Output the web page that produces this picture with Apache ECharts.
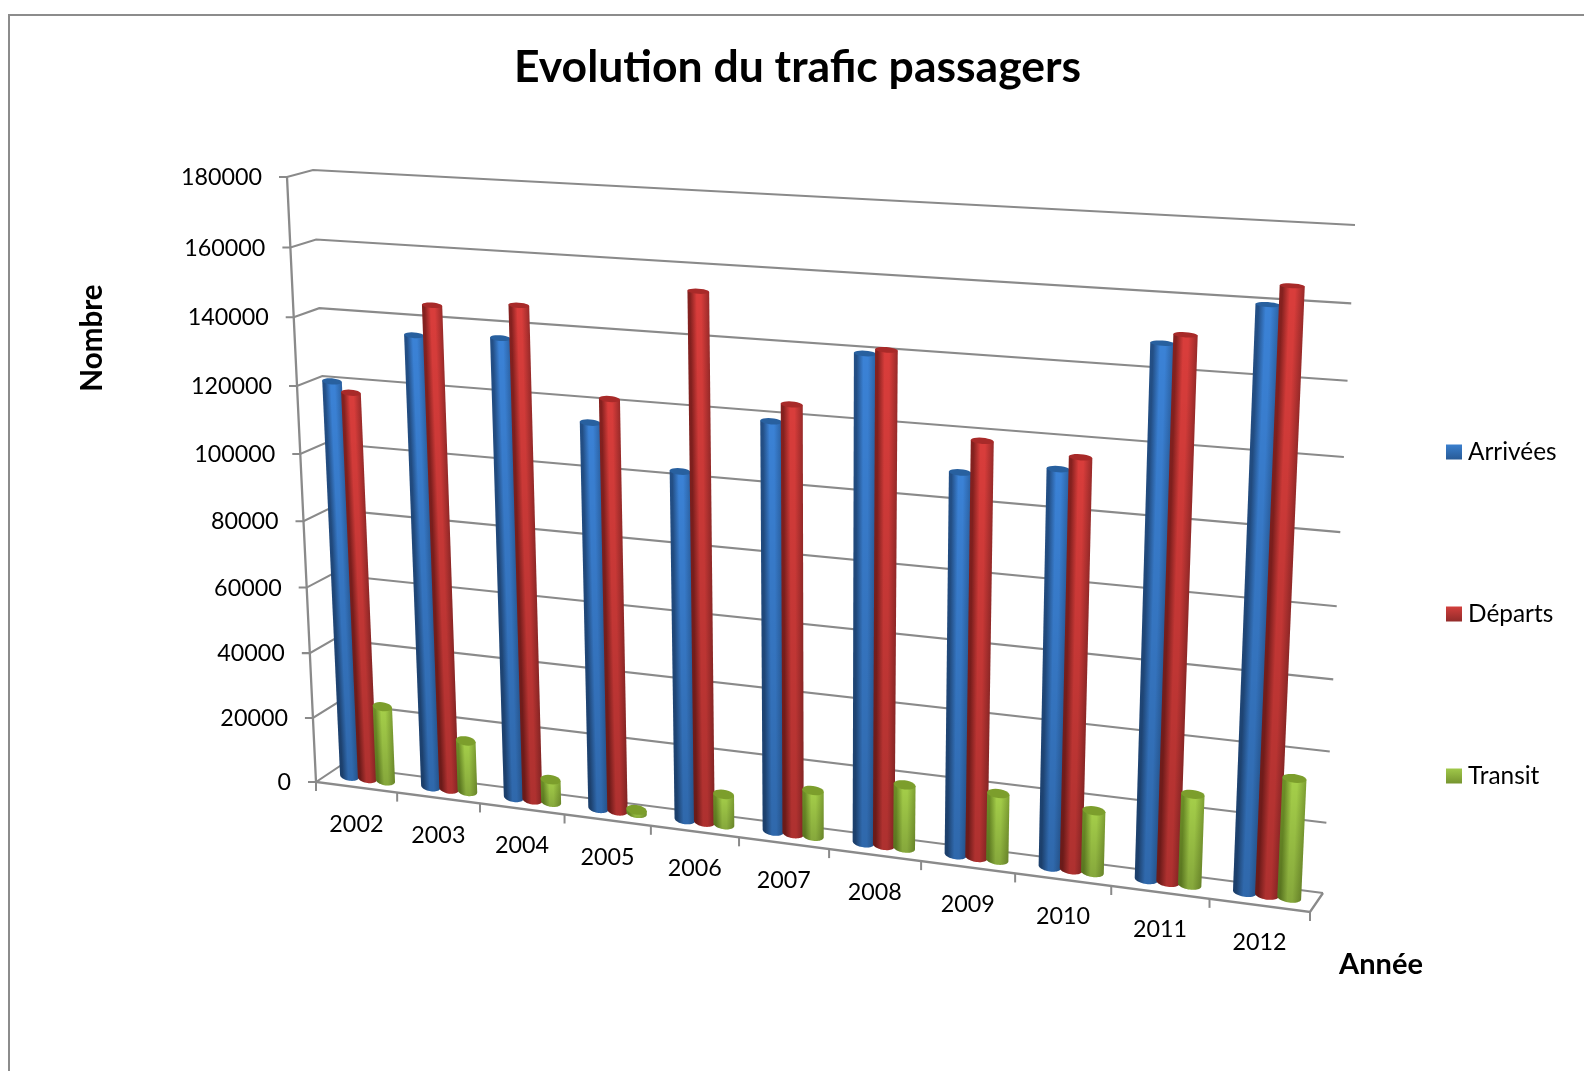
<!DOCTYPE html>
<html><head><meta charset="utf-8">
<style>html,body{margin:0;padding:0;background:#fff}#c{width:1584px;height:1071px}</style>
<script src="https://cdn.jsdelivr.net/npm/echarts@6/dist/echarts.min.js"></script>
</head><body><div id="c"></div>
<script>
const chartTitle = 'Evolution du trafic passagers';
const xName = 'Année';
const yName = 'Nombre';
const categories = ['2002','2003','2004','2005','2006','2007','2008','2009','2010','2011','2012'];
const yTicks = [0,20000,40000,60000,80000,100000,120000,140000,160000,180000];
const arrivees = [120250,135550,136550,114350,102550,118900,139600,109050,112200,147900,159700];
const departs  = [117350,144550,146250,121550,153550,124050,141000,118200,115900,150500,164900];
const transit  = [23100,15600,6900,1000,9100,13600,18600,19400,17800,25900,33700];

const FONT = 'Lato';
const GRID = {left:316, top:177, width:994, height:605};
const BACK  = [[340,766],[1323,893],[1355,225],[313,170]];
const FRONT = [[316,782],[1310,912],[1340,235],[287,177]];
const LINE = '#8a8a8a';
const TEXT = '#000';
const LABEL_SIZE = 23.3;

function homography(q){
  const [x0,y0]=q[0],[x1,y1]=q[1],[x2,y2]=q[2],[x3,y3]=q[3];
  const dx1=x1-x2,dx2=x3-x2,sx=x0-x1+x2-x3,dy1=y1-y2,dy2=y3-y2,sy=y0-y1+y2-y3;
  const D=dx1*dy2-dx2*dy1;
  const g=(sx*dy2-dx2*sy)/D,h=(dx1*sy-sx*dy1)/D;
  const a=x1-x0+g*x1,b=x3-x0+h*x3,d=y1-y0+g*y1,e=y3-y0+h*y3;
  return (u,v)=>{const w=g*u+h*v+1;return [(a*u+b*v+x0)/w,(d*u+e*v+y0)/w];};
}
const hBack=homography(BACK), hFront=homography(FRONT);
// depth 0 = front edge of the floor, depth 1 = back wall
function project(u,v,depth){
  const f=hFront(u,v),b=hBack(u,v);
  return [f[0]+(b[0]-f[0])*depth,f[1]+(b[1]-f[1])*depth];
}
// the columns stand slightly left of the interpolated plane on the left side of the chart
function projectBar(u,v){
  const p=project(u,v,DEPTH);
  return [p[0]-2.2*(1-u),p[1]];
}
function norm(cs,pt){return [(pt[0]-cs.x)/cs.width,1-(pt[1]-cs.y)/cs.height];}

const palettes = {
  'Arrivées':{edgeL:'#234f86',mid:'#3b82d6',edgeR:'#2a5f9f',cap:'#28609f',legend:['#3a7fce','#285a96']},
  'Départs': {edgeL:'#85211f',mid:'#d93d3b',edgeR:'#982a29',cap:'#a82a29',legend:['#d23f3c','#922b2a']},
  'Transit': {edgeL:'#6d8f27',mid:'#a6d04a',edgeR:'#7ea032',cap:'#7c9e2c',legend:['#a0c84a','#76942f']}
};
const BAR_STEP = 0.222;
const BAR_W = 0.236;
const DEPTH = 0.56;

function barRender(sIndex,name){
  const pal=palettes[name];
  return function(params,api){
    const cs=params.coordSys;
    const top=api.coord([api.value(0),api.value(1)]);
    const base=api.coord([api.value(0),0]);
    const band=api.size([1,0])[0];
    const off=(sIndex-1)*BAR_STEP*band, half=BAR_W*band/2;
    const [uC,vT]=norm(cs,[top[0]+off,top[1]]);
    const [,vB]=norm(cs,[base[0],base[1]]);
    const dU=half/cs.width;
    const TL=projectBar(uC-dU,vT),TR=projectBar(uC+dU,vT);
    const BL=projectBar(uC-dU,vB),BR=projectBar(uC+dU,vB);
    const ell=(L,R,ry,from,to)=>{
      const cx=(L[0]+R[0])/2,cy=(L[1]+R[1])/2,ax=(R[0]-L[0])/2,ay=(R[1]-L[1])/2,pts=[];
      for(let i=0;i<=24;i++){const t=from+(to-from)*i/24;pts.push([cx+Math.cos(t)*ax,cy+Math.cos(t)*ay+Math.sin(t)*ry]);}
      return pts;
    };
    const ryB=4.8, ryT=4.8-2.6*vT;
    // outline: top-left, top-right, then lower half of the base ellipse
    const body=[TL,TR].concat(ell(BL,BR,ryB,0,Math.PI));
    const len=Math.hypot(TR[0]-TL[0],TR[1]-TL[1]);
    const axis=[BL[0]-TL[0],BL[1]-TL[1]];
    const al=Math.hypot(axis[0],axis[1])||1;
    const nx=-axis[1]/al*(axis[1]>=0?-1:1),ny=axis[0]/al*(axis[1]>=0?-1:1);
    const sideFill={type:'linear',global:true,x:BL[0],y:BL[1],x2:BL[0]+nx*len,y2:BL[1]+ny*len,
      colorStops:[{offset:0,color:pal.edgeL},{offset:.12,color:pal.edgeL},{offset:.42,color:pal.mid},{offset:.62,color:pal.mid},{offset:1,color:pal.edgeR}]};
    const shade={type:'linear',global:true,x:0,y:Math.min(TL[1],TR[1]),x2:0,y2:Math.max(BL[1],BR[1])+ryB,
      colorStops:[{offset:0,color:'rgba(0,0,0,0)'},{offset:1,color:'rgba(0,0,0,0.2)'}]};
    return {type:'group',children:[
      {type:'polygon',shape:{points:body},style:{fill:sideFill},silent:true},
      {type:'polygon',shape:{points:body},style:{fill:shade},silent:true},
      {type:'polygon',shape:{points:ell(TL,TR,ryT,0,Math.PI*2)},style:{fill:pal.cap},silent:true}
    ]};
  };
}

function wallRender(params,api){
  const cs=params.coordSys;
  const p=api.coord([0,api.value(0)]);
  const v=norm(cs,p)[1];
  const A=project(0,v,0),B=project(0,v,1),C=project(1,v,1);
  const ln={stroke:LINE,lineWidth:2.1,fill:null};
  const kids=[
    {type:'polyline',shape:{points:[[A[0]-8,A[1]],A,B,C]},style:ln,silent:true},
    {type:'text',style:{text:String(api.value(0)),x:A[0]-25,y:A[1]+0.5,align:'right',verticalAlign:'middle',fontFamily:FONT,fontSize:LABEL_SIZE,fill:TEXT},silent:true}
  ];
  return {type:'group',children:kids};
}
function floorRender(params,api){
  const cs=params.coordSys;
  const i=api.value(0);
  const c=api.coord([i,0]);
  const band=api.size([1,0])[0];
  const kids=[];
  const uR=(c[0]+band/2-cs.x)/cs.width, uC=(c[0]-cs.x)/cs.width;
  const R=project(uR,0,0),M=project(uC,0,0);
  kids.push({type:'line',shape:{x1:R[0],y1:R[1],x2:R[0],y2:R[1]+9},style:{stroke:LINE,lineWidth:2},silent:true});
  kids.push({type:'text',style:{text:categories[i],x:M[0],y:M[1]+37,align:'center',verticalAlign:'middle',fontFamily:FONT,fontSize:LABEL_SIZE,fill:TEXT},silent:true});
  if(i===0){
    const O=project(0,0,0),O2=project(0,1,0),E=project(1,0,0),K=project(1,0,1);
    kids.push({type:'polyline',shape:{points:[O2,O,E,K]},style:{stroke:LINE,lineWidth:2.3,fill:null},silent:true});
    kids.push({type:'line',shape:{x1:O[0],y1:O[1],x2:O[0],y2:O[1]+9},style:{stroke:LINE,lineWidth:2},silent:true});
  }
  return {type:'group',children:kids};
}

function barSeries(name,values,idx){
  const l=palettes[name].legend;
  return {name,type:'custom',coordinateSystem:'cartesian2d',z:5,silent:true,
    itemStyle:{color:{type:'linear',x:0,y:0,x2:0,y2:1,colorStops:[{offset:0,color:l[0]},{offset:1,color:l[1]}]}},
    renderItem:barRender(idx,name),
    data:values.map((v,i)=>[i,v]),encode:{x:0,y:1}};
}

const chart=echarts.init(document.getElementById('c'),null,{renderer:'canvas'});
chart.setOption({
  animation:false,
  backgroundColor:'#fff',
  title:{text:chartTitle,top:40,left:509,textStyle:{fontFamily:FONT,fontWeight:'bold',fontSize:44.5,color:'#000'}},
  legend:{orient:'vertical',left:1441,top:435,itemWidth:16,itemHeight:15,itemGap:138,icon:'rect',
    selectedMode:false,data:['Arrivées','Départs','Transit'],
    textStyle:{fontFamily:FONT,fontSize:24.4,color:'#000',padding:[0,0,0,1]}},
  grid:{left:GRID.left,top:GRID.top,width:GRID.width,height:GRID.height,containLabel:false},
  xAxis:{type:'category',data:categories,show:false},
  yAxis:{type:'value',min:0,max:180000,interval:20000,show:false},
  graphic:[
    {type:'rect',shape:{x:9,y:15,width:1640,height:1120},style:{fill:'none',stroke:'#8c8c8c',lineWidth:2},silent:true,z:-1},
    {type:'text',x:92,y:338,rotation:Math.PI/2,style:{text:yName,align:'center',verticalAlign:'middle',fontFamily:FONT,fontWeight:'bold',fontSize:29.6,fill:'#000'},silent:true},
    {type:'text',x:1381,y:965,style:{text:xName,align:'center',verticalAlign:'middle',fontFamily:FONT,fontWeight:'bold',fontSize:29,fill:'#000'},silent:true}
  ],
  tooltip:{show:false},
  series:[
    {name:'walls',type:'custom',coordinateSystem:'cartesian2d',z:1,silent:true,renderItem:wallRender,data:yTicks.map(v=>[v]),encode:{y:0}},
    {name:'floor',type:'custom',coordinateSystem:'cartesian2d',z:2,silent:true,renderItem:floorRender,data:categories.map((c,i)=>[i]),encode:{x:0}},
    barSeries('Arrivées',arrivees,0),
    barSeries('Départs',departs,1),
    barSeries('Transit',transit,2)
  ]
});
</script></body></html>
